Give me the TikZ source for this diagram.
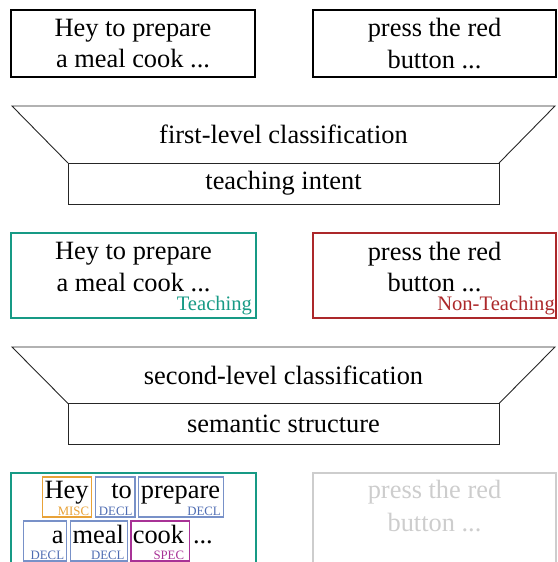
\documentclass[tikz,border=0pt]{standalone}
\usepackage{fontspec}
\setmainfont{Liberation Serif}
\usetikzlibrary{calc}
\definecolor{tealc}{RGB}{23,154,133}
\definecolor{redc}{RGB}{172,40,42}
\definecolor{miscc}{RGB}{232,162,56}
\definecolor{declc}{RGB}{78,108,178}
\definecolor{declbox}{RGB}{120,145,200}
\definecolor{specc}{RGB}{168,50,150}
\definecolor{grayc}{RGB}{205,205,205}
\begin{document}
\begin{tikzpicture}[x=1pt,y=-1pt,
  mainfont/.style={font=\fontsize{26.4}{31.7}\selectfont},
  topbox/.style={draw, line width=1.7pt, outer sep=0pt, minimum height=67, align=center, inner sep=0pt, mainfont},
  midbox/.style={draw, line width=1.5pt, outer sep=0pt, minimum height=85, inner sep=0pt},
  txt/.style={align=center, inner sep=0pt, mainfont},
  funnel/.style={draw=black!85, line width=0.9pt},
  stage/.style={draw=black!85, line width=0.9pt, outer sep=0pt, minimum width=431, minimum height=41, inner sep=0pt, mainfont},
  lab/.style={inner ysep=2.6pt, font=\fontsize{20.6}{24}\selectfont},
  wbox/.style={line width=1.2pt, outer sep=0pt, inner sep=0pt, minimum height=40, anchor=north west},
  wword/.style={inner sep=0pt, font=\fontsize{26.4}{31.7}\selectfont},
  wlab/.style={inner sep=0pt, font=\fontsize{12.8}{14}\selectfont, anchor=base east}]
\useasboundingbox (0,0) rectangle (557,562);
\clip (0,0) rectangle (557,562);

% top row
\node[topbox, minimum width=244] (in1) at (133,43.5) {Hey to prepare\\a meal cook ...};
\node[topbox, minimum width=243] (in2) at (434.5,43.5) {press the red\\button ...};

% first-level classification
\node[stage] (ti) at (283.5,183.5) {teaching intent};
\coordinate (f1l) at (12,106);
\coordinate (f1r) at (555,106);
\draw[funnel] (ti.north west) -- (f1l) -- (f1r) -- (ti.north east);
\node[txt] (fl1) at (283.5,134.5) {first-level classification};

% middle row
\node[midbox, draw=tealc, minimum width=245] (m1) at (133.5,275.5) {};
\node[txt] (m1t) at (133.5,267) {Hey to prepare\\a meal cook ...};
\node[lab, inner xsep=3.8pt, text=tealc, anchor=south east] (m1l) at (m1.south east) {Teaching};
\node[midbox, draw=redc, minimum width=243] (m2) at (434.5,275.5) {};
\node[txt] (m2t) at (434.5,267) {press the red\\button ...};
\node[lab, inner xsep=1pt, text=redc, anchor=south east] (m2l) at (m2.south east) {Non-Teaching};

% second-level classification
\node[stage] (ss) at (283.5,424) {semantic structure};
\coordinate (f2l) at (12,347);
\coordinate (f2r) at (555,347);
\draw[funnel] (ss.north west) -- (f2l) -- (f2r) -- (ss.north east);
\node[txt] (fl2) at (283.5,375) {second-level classification};

% bottom row
\node[midbox, draw=tealc, minimum width=245, minimum height=110, anchor=north west] (b1) at (11,473) {};
\node[midbox, draw=grayc, minimum width=243, minimum height=110, anchor=north west] (b2) at (313,473) {};
\node[txt, text=grayc, font=\fontsize{26.4}{33}\selectfont] (b2t) at (434.5,506) {press the red\\button ...};

% word boxes
\node[wbox, draw=miscc, minimum width=49.4] (w1) at (42.3,477) {};
\node[wword, anchor=base east] (w1w) at ($(w1.north east)+(-3,21.5)$) {Hey};
\node[wlab, text=miscc] (w1l) at ($(w1.north east)+(-2.4,38.5)$) {MISC};

\node[wbox, draw=declbox, minimum width=39.3] (w2) at (95.7,477) {};
\node[wword, anchor=base east] (w2w) at ($(w2.north east)+(-3,21.5)$) {to};
\node[wlab, text=declc] (w2l) at ($(w2.north east)+(-2.4,38.5)$) {DECL};

\node[wbox, draw=declbox, minimum width=85] (w3) at (138.3,477) {};
\node[wword, anchor=base east] (w3w) at ($(w3.north east)+(-3,21.5)$) {prepare};
\node[wlab, text=declc] (w3l) at ($(w3.north east)+(-2.4,38.5)$) {DECL};

\node[wbox, draw=declbox, minimum width=43.4] (w4) at (23.3,521) {};
\node[wword, anchor=base east] (w4w) at ($(w4.north east)+(-3,22)$) {a};
\node[wlab, text=declc] (w4l) at ($(w4.north east)+(-2.4,38.5)$) {DECL};

\node[wbox, draw=declbox, minimum width=57] (w5) at (70.7,521) {};
\node[wword, anchor=base east] (w5w) at ($(w5.north east)+(-3.5,22)$) {meal};
\node[wlab, text=declc] (w5l) at ($(w5.north east)+(-3,38.5)$) {DECL};

\node[wbox, draw=specc, minimum width=58.3] (w6) at (131,521) {};
\node[wword, anchor=base east] (w6w) at ($(w6.north east)+(-5,22)$) {cook};
\node[wlab, text=specc] (w6l) at ($(w6.north east)+(-5,38.5)$) {SPEC};

\node[wword, anchor=base west] (dots) at ($(w6.north east)+(3.5,22)$) {...};
\end{tikzpicture}
\end{document}
